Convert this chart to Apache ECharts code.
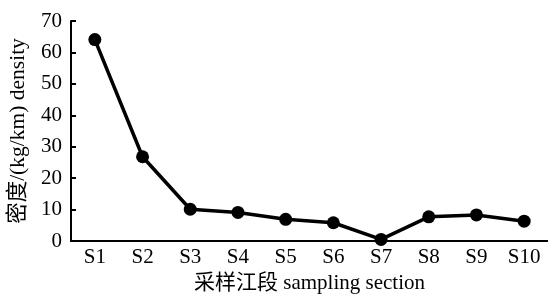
<!DOCTYPE html>
<html>
<head>
<meta charset="utf-8">
<script src="https://cdn.jsdelivr.net/npm/echarts@6/dist/echarts.min.js"></script>
<style>
  html, body { margin: 0; padding: 0; background: #fff; }
  #main { width: 548px; height: 295px; }
</style>
</head>
<body>
<div id="main"></div>
<script>
let sections = ['S1', 'S2', 'S3', 'S4', 'S5', 'S6', 'S7', 'S8', 'S9', 'S10'];
let density = [64.1, 26.8, 10.1, 9.1, 6.9, 5.8, 0.5, 7.7, 8.3, 6.3];

let font = "'Liberation Serif', 'Noto Sans CJK SC', serif";

let chartDom = document.getElementById('main');
let myChart = echarts.init(chartDom);

let option = {
    animation: false,
    grid: {
        left: 71,
        right: 0,
        top: 21,
        bottom: 54,
        containLabel: false,
        outerBoundsMode: 'none'
    },
    xAxis: {
        type: 'category',
        data: sections,
        name: '采样江段 sampling section',
        nameLocation: 'middle',
        nameGap: 32,
        nameTextStyle: { color: '#000', fontSize: 21, fontFamily: font },
        axisLine: { lineStyle: { color: '#000', width: 2 } },
        axisTick: { inside: true, length: 6, lineStyle: { color: '#000', width: 2 } },
        axisLabel: { color: '#000', fontSize: 21, fontFamily: font, margin: 6 },
        splitLine: { show: false }
    },
    yAxis: {
        type: 'value',
        min: 0,
        max: 70,
        interval: 10,
        name: '密度/(kg/km) density',
        nameLocation: 'middle',
        nameGap: 42,
        nameTextStyle: { color: '#000', fontSize: 21.5, fontFamily: font },
        axisLine: { show: true, lineStyle: { color: '#000', width: 2 } },
        axisTick: { show: true, inside: true, length: 5, lineStyle: { color: '#000', width: 2 } },
        axisLabel: { color: '#000', fontSize: 21, fontFamily: font, margin: 9 },
        splitLine: { show: false }
    },
    series: [{
        type: 'line',
        data: density,
        symbol: 'circle',
        symbolSize: 13,
        itemStyle: { color: '#000' },
        lineStyle: { color: '#000', width: 3.5 }
    }]
};

option && myChart.setOption(option);
</script>
</body>
</html>
